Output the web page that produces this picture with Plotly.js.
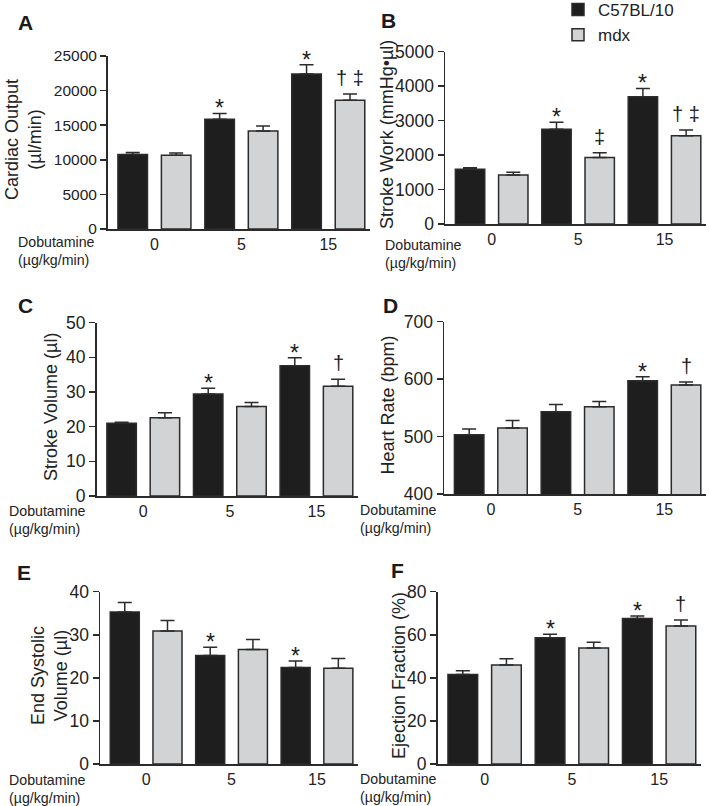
<!DOCTYPE html>
<html><head><meta charset="utf-8">
<script src="https://cdn.plot.ly/plotly-3.0.1.min.js"></script>
<style>html,body{margin:0;padding:0;background:#fff}#chart{width:709px;height:806px}</style>
</head><body><div id="chart"></div>
<script>
// ---------- DATA ----------
const doses = ['0', '5', '15'];
const groupNames = ['C57BL/10', 'mdx'];

// A: Cardiac Output (µl/min)
const coC57 = [10750, 15850, 22400];
const coC57Err = [300, 850, 1350];
const coMdx = [10650, 14150, 18600];
const coMdxErr = [350, 750, 900];
const coC57Sig = ['', '*', '*'];
const coMdxSig = ['', '', '† ‡'];

// B: Stroke Work (mmHg•µl)
const swC57 = [1590, 2750, 3690];
const swC57Err = [45, 200, 245];
const swMdx = [1420, 1930, 2560];
const swMdxErr = [80, 135, 165];
const swC57Sig = ['', '*', '*'];
const swMdxSig = ['', '‡', '† ‡'];

// C: Stroke Volume (µl)
const svC57 = [21.0, 29.4, 37.6];
const svC57Err = [0.3, 1.7, 2.3];
const svMdx = [22.6, 25.8, 31.7];
const svMdxErr = [1.4, 1.2, 2.0];
const svC57Sig = ['', '*', '*'];
const svMdxSig = ['', '', '†'];

// D: Heart Rate (bpm)
const hrC57 = [503, 543, 597];
const hrC57Err = [10, 13, 7];
const hrMdx = [515, 552, 590];
const hrMdxErr = [13, 9, 5];
const hrC57Sig = ['', '', '*'];
const hrMdxSig = ['', '', '†'];

// E: End Systolic Volume (µl)
const esvC57 = [35.3, 25.2, 22.4];
const esvC57Err = [2.2, 1.9, 1.5];
const esvMdx = [30.9, 26.6, 22.2];
const esvMdxErr = [2.4, 2.3, 2.3];
const esvC57Sig = ['', '*', '*'];
const esvMdxSig = ['', '', ''];

// F: Ejection Fraction (%)
const efC57 = [41.6, 58.6, 67.5];
const efC57Err = [1.7, 1.7, 1.2];
const efMdx = [46.0, 53.9, 64.1];
const efMdxErr = [2.9, 2.6, 2.8];
const efC57Sig = ['', '*', '*'];
const efMdxSig = ['', '', '†'];

// ---------- LAYOUT / STYLE ----------
const W = 709, H = 806;
const FONT = 'Liberation Sans, Arial, Helvetica, sans-serif';
const BLACK = '#1e1e1e', GRAY = '#d1d3d4', LINE = '#2b2b2b';

// px/py: plot-area pixel box; tp: y-title centre (px); lp: panel letter centre; dp: dose label (left, middle)
const panels = [
  {letter: 'A', title: 'Cardiac Output<br>(µl/min)', s: [[coC57, coC57Err, coC57Sig], [coMdx, coMdxErr, coMdxSig]],
   range: [0, 25000], dtick: 5000, px: [107.5, 370], py: [56, 229], tp: [24, 140], lp: [25, 22], dp: [16, 251], tf: 15.5},
  {letter: 'B', title: 'Stroke Work (mmHg•µl)', s: [[swC57, swC57Err, swC57Sig], [swMdx, swMdxErr, swMdxSig]],
   range: [0, 5000], dtick: 1000, px: [445, 706], py: [51.7, 224], tp: [387, 135], lp: [388, 20], dp: [383, 254], tf: 17.5},
  {letter: 'C', title: 'Stroke Volume (µl)', s: [[svC57, svC57Err, svC57Sig], [svMdx, svMdxErr, svMdxSig]],
   range: [0, 50], dtick: 10, px: [96.5, 358], py: [322.7, 496], tp: [51, 407], lp: [25, 305], dp: [7, 520], tf: 17.5},
  {letter: 'D', title: 'Heart Rate (bpm)', s: [[hrC57, hrC57Err, hrC57Sig], [hrMdx, hrMdxErr, hrMdxSig]],
   range: [400, 700], dtick: 100, px: [444, 706], py: [321.7, 494], tp: [387.5, 405], lp: [390, 306], dp: [358, 519], tf: 17.5},
  {letter: 'E', title: 'End Systolic<br>Volume (µl)', s: [[esvC57, esvC57Err, esvC57Sig], [esvMdx, esvMdxErr, esvMdxSig]],
   range: [0, 40], dtick: 10, px: [100, 358], py: [591.7, 764], tp: [49, 676], lp: [24, 572], dp: [7, 789], tf: 17.5},
  {letter: 'F', title: 'Ejection Fraction (%)', s: [[efC57, efC57Err, efC57Sig], [efMdx, efMdxErr, efMdxSig]],
   range: [0, 80], dtick: 20, px: [437.5, 701], py: [591.7, 764], tp: [399, 676], lp: [397, 570], dp: [358, 788], tf: 17.5}
];

const data = [];
const annotations = [];
const layout = {
  width: W, height: H,
  margin: {l: 0, r: 0, t: 0, b: 0, pad: 0, autoexpand: false},
  paper_bgcolor: '#fff', plot_bgcolor: '#fff',
  font: {family: FONT, color: '#222', size: 16},
  barmode: 'group', bargap: 0, bargroupgap: 0.32,
  showlegend: true,
  legend: {x: 558 / W, xanchor: 'left', y: 1 + 8 / H, yanchor: 'top',
           font: {size: 17, family: FONT, color: '#222'},
           bgcolor: 'rgba(0,0,0,0)', traceorder: 'normal', tracegroupgap: 0},
  annotations: annotations
};

panels.forEach((p, i) => {
  const n = i + 1;
  const xa = n === 1 ? 'x' : 'x' + n;
  const ya = n === 1 ? 'y' : 'y' + n;
  const xk = n === 1 ? 'xaxis' : 'xaxis' + n;
  const yk = n === 1 ? 'yaxis' : 'yaxis' + n;

  p.s.forEach((ser, j) => {
    const [vals, errs, sig] = ser;
    data.push({
      type: 'bar', x: doses, y: vals, name: groupNames[j],
      xaxis: xa, yaxis: ya, showlegend: n === 1, legendgroup: groupNames[j],
      marker: {color: j === 0 ? BLACK : GRAY, line: {color: LINE, width: 1.5}},
      error_y: {type: 'data', symmetric: false, array: errs, arrayminus: errs.map(() => 0),
                color: LINE, thickness: 1.5, width: 7},
      hoverinfo: 'skip'
    });
    sig.forEach((t, k) => {
      if (!t) return;
      const star = t === '*';
      annotations.push({
        xref: xa, yref: ya, x: k + (j === 0 ? -0.25 : 0.25), y: vals[k] + errs[k],
        yanchor: 'middle', xanchor: 'center', yshift: star ? 5 : 16,
        text: t, showarrow: false, font: {size: star ? 23 : 20, family: FONT, color: '#1a1a1a'}
      });
    });
  });

  layout[xk] = {
    type: 'category', domain: [p.px[0] / W, p.px[1] / W], anchor: ya,
    range: [-0.54, 2.48], showline: true, linecolor: LINE, linewidth: 1.5,
    ticks: '', showgrid: false, zeroline: false, fixedrange: true,
    tickfont: {size: 16, family: FONT, color: '#222'}
  };
  layout[yk] = {
    domain: [1 - p.py[1] / H, 1 - p.py[0] / H], anchor: xa,
    range: p.range, dtick: p.dtick, tick0: 0, tickformat: 'd', showline: true, linecolor: LINE, linewidth: 1.5,
    ticks: 'outside', ticklen: 6, tickwidth: 1.5, tickcolor: LINE,
    showgrid: false, zeroline: false, fixedrange: true,
    tickfont: {size: p.tf, family: FONT, color: '#222'}
  };

  // y-axis title (rotated)
  annotations.push({
    xref: 'paper', yref: 'paper', x: p.tp[0] / W, y: 1 - p.tp[1] / H,
    xanchor: 'center', yanchor: 'middle', textangle: -90, align: 'center',
    text: p.title, showarrow: false, font: {size: 18, family: FONT, color: '#222'}
  });
  // panel letter
  annotations.push({
    xref: 'paper', yref: 'paper', x: p.lp[0] / W, y: 1 - p.lp[1] / H,
    xanchor: 'center', yanchor: 'middle', text: '<b>' + p.letter + '</b>', showarrow: false,
    font: {size: 21, family: FONT, color: '#1a1a1a'}
  });
  // dose label
  annotations.push({
    xref: 'paper', yref: 'paper', x: p.dp[0] / W, y: 1 - p.dp[1] / H,
    xanchor: 'left', yanchor: 'middle', align: 'left', text: 'Dobutamine<br>(µg/kg/min)', showarrow: false,
    font: {size: 14.2, family: FONT, color: '#222'}
  });
});

Plotly.newPlot('chart', data, layout, {staticPlot: true, displayModeBar: false});
</script>
</body></html>
